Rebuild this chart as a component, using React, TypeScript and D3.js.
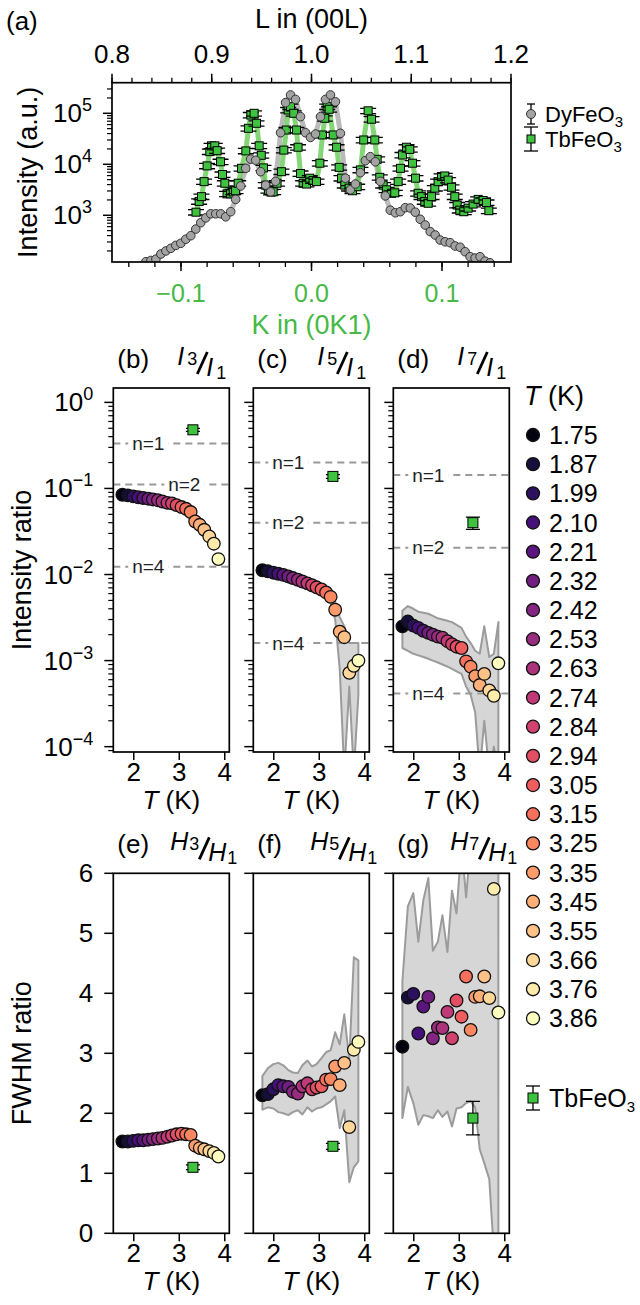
import React from 'react';
import * as d3 from 'd3';

const FONT = '"Liberation Sans", Arial, Helvetica, sans-serif';
const GREEN = '#3fc23f';
const GREEN_TEXT = '#46b946';
const BAND_FILL = '#d6d6d6';
const BAND_LINE = '#9b9b9b';

// (a) DyFeO3, [L, intensity]
const dyFeO3: [number, number][] = [
  [0.834, 123], [0.839, 130], [0.844, 138], [0.849, 174], [0.854, 200], [0.859, 225],
  [0.864, 257], [0.869, 282], [0.874, 339], [0.879, 398], [0.884, 537], [0.889, 716],
  [0.894, 890], [0.899, 1070], [0.904, 1070], [0.909, 1070], [0.914, 934], [0.919, 1175],
  [0.924, 2050], [0.929, 3760], [0.934, 8330], [0.939, 12600], [0.944, 12000], [0.949, 7160],
  [0.954, 3900], [0.959, 2880], [0.964, 4640], [0.969, 41600], [0.974, 162000], [0.979, 229000],
  [0.984, 187000], [0.989, 85800], [0.994, 41600], [0.999, 33700], [1.004, 39200], [1.009, 85800],
  [1.014, 187000], [1.019, 229000], [1.024, 168000], [1.029, 40500], [1.034, 5340], [1.039, 3160],
  [1.044, 4100], [1.049, 6840], [1.054, 11800], [1.059, 14100], [1.064, 11200], [1.069, 4640],
  [1.074, 2400], [1.079, 1260], [1.084, 1120], [1.089, 1175], [1.094, 1410], [1.099, 1390],
  [1.104, 1150], [1.109, 835], [1.114, 645], [1.119, 478], [1.124, 410], [1.129, 327],
  [1.134, 302], [1.139, 290], [1.144, 250], [1.149, 236], [1.154, 193], [1.159, 154],
  [1.164, 145], [1.169, 154], [1.174, 126], [1.179, 117],
];

// (a) TbFeO3, [K, intensity]
const tbFeO3: [number, number][] = [
  [-0.0885, 1150], [-0.0861, 1870], [-0.0843, 2320], [-0.0823, 4570], [-0.08, 9300],
  [-0.0779, 17700], [-0.0766, 23000], [-0.0741, 23000], [-0.0723, 18500], [-0.0697, 11200],
  [-0.0682, 6300], [-0.0664, 4250], [-0.0647, 2630], [-0.062, 2630], [-0.06, 2880],
  [-0.0582, 3030], [-0.0562, 4250], [-0.0536, 8330], [-0.0503, 18300], [-0.0483, 50800],
  [-0.0465, 92500], [-0.044, 100000], [-0.0421, 63700], [-0.0401, 23000], [-0.0385, 15000],
  [-0.0368, 8500], [-0.035, 3900], [-0.033, 3100], [-0.031, 2850], [-0.0294, 2880],
  [-0.0264, 4250], [-0.023, 7160], [-0.0212, 19000], [-0.0192, 47000], [-0.0179, 116000],
  [-0.0161, 135000], [-0.0136, 100000], [-0.0115, 47000], [-0.0103, 21600], [-0.0084, 6600],
  [-0.0064, 4250], [-0.0038, 4100], [-0.0013, 5340], [0.0012, 4800], [0.0038, 4570],
  [0.0064, 10500], [0.0084, 37600], [0.0102, 79800], [0.012, 135000], [0.0135, 120000],
  [0.0166, 37600], [0.0192, 21600], [0.0212, 8700], [0.023, 5340], [0.0255, 3900],
  [0.0288, 3400], [0.0314, 3030], [0.035, 3630], [0.0375, 7760], [0.04, 30000],
  [0.0434, 112000], [0.046, 76500], [0.0485, 30000], [0.0503, 12500], [0.0523, 5550],
  [0.0549, 3900], [0.0575, 3160], [0.0613, 2700], [0.0638, 2760], [0.0664, 4570],
  [0.0682, 8330], [0.0697, 15200], [0.0728, 21600], [0.0753, 19600], [0.0774, 10500],
  [0.0797, 5340], [0.0817, 2700], [0.0843, 2320], [0.0868, 1870], [0.0894, 1720],
  [0.092, 2320], [0.0945, 3400], [0.097, 4570], [0.0996, 5770], [0.1021, 5900],
  [0.1047, 4900], [0.1073, 3540], [0.1098, 2320], [0.1116, 1590], [0.1136, 1260],
  [0.1167, 1175], [0.12, 1380], [0.1238, 1660], [0.1277, 2050], [0.1315, 1950],
  [0.1341, 1780], [0.1359, 1230],
];

// temperatures (K)
const temps = [1.75, 1.87, 1.99, 2.10, 2.21, 2.32, 2.42, 2.53, 2.63, 2.74, 2.84, 2.94, 3.05, 3.15, 3.25, 3.35, 3.45, 3.55, 3.66, 3.76, 3.86];

// intensity ratios
const ratioI3 = [0.0845, 0.083, 0.0808, 0.079, 0.0775, 0.076, 0.0745, 0.073, 0.0705, 0.068, 0.067, 0.064, 0.0608, 0.058, 0.0532, 0.0413, 0.0378, 0.0331, 0.0277, 0.0228, 0.0151];
const ratioI5 = [0.0112, 0.0109, 0.0105, 0.0102, 0.0099, 0.0095, 0.0091, 0.0087, 0.0083, 0.0079, 0.0075, 0.0071, 0.0067, 0.0062, 0.0055, 0.0039, 0.00217, 0.00187, 0.00072, 0.00087, 0.001];
const ratioI5Lo = [0.0106, 0.0103, 0.0099, 0.0096, 0.0093, 0.0089, 0.0085, 0.0081, 0.0077, 0.0073, 0.0069, 0.0065, 0.0061, 0.0056, 0.0046, 0.003, 0.0008, 0.00005, 0.0005, 0.00005, 0.0004];
const ratioI5Hi = [0.0119, 0.0116, 0.0112, 0.0109, 0.0106, 0.0102, 0.0098, 0.0094, 0.009, 0.0086, 0.0082, 0.0078, 0.0074, 0.0069, 0.0064, 0.0049, 0.0032, 0.0025, 0.0016, 0.0016, 0.0016];
const ratioI7 = [0.0025, 0.00284, 0.00255, 0.0024, 0.00222, 0.0021, 0.002, 0.0019, 0.00185, 0.00168, 0.00155, 0.00145, 0.0014, 0.00098, 0.00085, 0.00066, 0.00052, 0.0007, 0.00045, 0.00039, 0.00093];
const ratioI7Lo = [0.0014, 0.0013, 0.0012, 0.00115, 0.0011, 0.00105, 0.001, 0.00095, 0.0009, 0.00085, 0.0008, 0.00075, 0.0007, 0.0005, 0.0004, 0.00025, 0.00005, 0.0002, 0.00005, 0.0001, 0.00005];
const ratioI7Hi = [0.0038, 0.0043, 0.004, 0.0037, 0.0036, 0.0035, 0.0033, 0.0031, 0.003, 0.0029, 0.0028, 0.0026, 0.0024, 0.0019, 0.0016, 0.0013, 0.0012, 0.0025, 0.0011, 0.0012, 0.0028];

// FWHM ratios
const fwhmH3 = [1.53, 1.53, 1.54, 1.55, 1.55, 1.56, 1.57, 1.58, 1.59, 1.61, 1.63, 1.65, 1.66, 1.65, 1.64, 1.46, 1.42, 1.4, 1.37, 1.34, 1.28];
const fwhmH5 = [2.3, 2.32, 2.4, 2.47, 2.45, 2.44, 2.36, 2.33, 2.45, 2.5, 2.4, 2.43, 2.45, 2.56, 2.57, 2.78, 2.47, 2.84, 1.77, 3.06, 3.19];
const fwhmH5Lo = [2.06, 2.1, 2.08, 2.02, 2.0, 1.97, 2.02, 2.05, 1.98, 2.1, 2.03, 2.08, 2.1, 2.15, 2.2, 2.28, 1.75, 2.05, 0.85, 1.1, 1.2];
const fwhmH5Hi = [2.62, 2.75, 2.82, 2.84, 2.8, 2.72, 2.68, 2.67, 2.8, 2.88, 2.78, 2.82, 2.92, 3.02, 3.05, 3.35, 3.15, 3.65, 2.9, 4.6, 4.55];
const fwhmH7 = [3.11, 3.93, 3.99, 3.33, 3.78, 3.94, 3.25, 3.43, 3.42, 3.69, 3.25, 3.88, 3.61, 4.28, 3.39, 3.94, 3.95, 4.28, 3.92, 5.74, 3.68];
const fwhmH7Lo = [1.92, 2.44, 2.17, 1.81, 1.97, 1.95, 1.92, 2.05, 1.94, 2.03, 1.78, 2.08, 2.1, 2.17, 2.2, 2.1, 1.4, 1.17, 0.9, -0.3, -0.3];
const fwhmH7Hi = [4.2, 5.45, 5.67, 4.86, 5.55, 5.92, 4.71, 4.86, 5.3, 4.69, 5.71, 5.33, 6.5, 5.6, 6.5, 6.5, 6.5, 6.5, 6.5, 6.5, 6.5];

// expected ratios for n-domain lines
const nNames = ['n=1', 'n=2', 'n=4'];
const nLevelsI3 = [0.333, 0.111, 0.0123];
const nLevelsI5 = [0.2, 0.04, 0.0016];
const nLevelsI7 = [0.143, 0.0204, 0.000416];

// TbFeO3 reference points
const tbTemp = 3.3;
const tbRatio = [0.48, 0.138, 0.04];
const tbRatioErr = [0.02, 0.007, 0.0065];
const tbFwhm = [1.1, 1.45, 1.92];
const tbFwhmErr = [0.04, 0.05, 0.28];

// ticks
const lTicks = [0.8, 0.9, 1.0, 1.1, 1.2];
const kTicks = [-0.1, 0, 0.1];
const kTickLabels = ['\u22120.1', '0.0', '0.1'];
const tTicks = [2, 3, 4];
const fwhmTicks = [0, 1, 2, 3, 4, 5, 6];

// layout
const W = 640;
const H = 1305;
const A = { left: 112, right: 511, top: 82.7, bottom: 262 };
const ROW1 = { top: 388, bottom: 752 };
const ROW2 = { top: 873.3, bottom: 1233.3 };
const COLS = [113.3, 253.3, 393.3];
const PW = 116;

const xL = d3.scaleLinear().domain([0.8, 1.2]).range([A.left, A.right]);
const xK = d3.scaleLinear().domain([-0.15287, 0.15287]).range([A.left, A.right]);
const yA = d3.scaleLog().domain([10 ** 2.084, 10 ** 5.6]).range([A.bottom, A.top]);
const yRatio = d3.scaleLog().domain([10 ** -4.062, 10 ** 0.167]).range([ROW1.bottom, ROW1.top]);
const yFwhm = d3.scaleLinear().domain([0, 6]).range([ROW2.bottom, ROW2.top]);
const tScale = (left: number) => d3.scaleLinear().domain([1.55, 4.1]).range([left, left + PW]);
const tempColor = (i: number) => d3.interpolateMagma(0.03 + 0.97 * (i / (temps.length - 1)) ** 0.85);

function logTicks(scale: any) {
  const [a, b] = scale.domain();
  const major: { v: number; e: number }[] = [];
  const minor: number[] = [];
  for (let e = Math.floor(Math.log10(a)); e <= Math.ceil(Math.log10(b)); e++) {
    for (let m = 1; m <= 9; m++) {
      const v = m * Math.pow(10, e);
      if (v < a * 0.9999 || v > b * 1.0001) continue;
      if (m === 1) major.push({ v, e });
      else minor.push(v);
    }
  }
  return { major, minor };
}

const Pow10 = ({ x, y, e }: { x: number; y: number; e: number }) => (
  <text x={x} y={y + 9} textAnchor="end" fontSize={26}>
    10<tspan dy={-11} fontSize={18}>{e < 0 ? `\u2212${-e}` : `${e}`}</tspan>
  </text>
);

const Sub3 = ({ name }: { name: string }) => (
  <>
    {name}
    <tspan dy={5} fontSize={15}>3</tspan>
  </>
);

function ErrSquare({ cx, cy, y0, y1, size, cap }: { cx: number; cy: number; y0: number; y1: number; size: number; cap: number }) {
  return (
    <g>
      <line x1={cx} x2={cx} y1={y0} y2={y1} stroke="#000" strokeWidth={1.3} />
      <line x1={cx - cap} x2={cx + cap} y1={y0} y2={y0} stroke="#000" strokeWidth={1.3} />
      <line x1={cx - cap} x2={cx + cap} y1={y1} y2={y1} stroke="#000" strokeWidth={1.3} />
      <rect x={cx - size / 2} y={cy - size / 2} width={size} height={size} fill={GREEN} stroke="#000" strokeWidth={1} />
    </g>
  );
}

function PanelA() {
  const lt = logTicks(yA);
  const dyLine = d3.line<[number, number]>().x((d) => xL(d[0])).y((d) => yA(d[1]));
  const tbLine = d3.line<[number, number]>().x((d) => xK(d[0])).y((d) => yA(d[1]));
  const lMinor = d3.range(0.8, 1.2001, 0.02);
  const kMinor = d3.range(-0.14, 0.1401, 0.02);
  return (
    <g>
      <defs>
        <clipPath id="clipA">
          <rect x={A.left} y={A.top} width={A.right - A.left} height={A.bottom - A.top} />
        </clipPath>
      </defs>
      <g clipPath="url(#clipA)">
        <path d={dyLine(dyFeO3) || ''} fill="none" stroke="#aaaaaa" strokeOpacity={0.8} strokeWidth={5} strokeLinejoin="round" />
        <path d={tbLine(tbFeO3) || ''} fill="none" stroke="#66cc55" strokeOpacity={0.8} strokeWidth={5} strokeLinejoin="round" />
        {tbFeO3.map((d, i) => (
          <ErrSquare key={`t${i}`} cx={xK(d[0])} cy={yA(d[1])} y0={yA(d[1] * 1.12)} y1={yA(d[1] * 0.88)} size={8} cap={8} />
        ))}
        {dyFeO3.map((d, i) => (
          <circle key={`d${i}`} cx={xL(d[0])} cy={yA(d[1])} r={4.3} fill="#a3a3a3" stroke="#333" strokeWidth={1} />
        ))}
      </g>
      <rect x={A.left} y={A.top} width={A.right - A.left} height={A.bottom - A.top} fill="none" stroke="#000" strokeWidth={1.7} />
      {lMinor.map((v, i) => (
        <line key={`lm${i}`} x1={xL(v)} x2={xL(v)} y1={A.top} y2={A.top - 5} stroke="#000" strokeWidth={1.3} />
      ))}
      {lTicks.map((v) => (
        <g key={`lt${v}`}>
          <line x1={xL(v)} x2={xL(v)} y1={A.top} y2={A.top - 9} stroke="#000" strokeWidth={1.5} />
          <text x={xL(v)} y={A.top - 20} textAnchor="middle" fontSize={26}>{v.toFixed(1)}</text>
        </g>
      ))}
      <text x={(A.left + A.right) / 2} y={28} textAnchor="middle" fontSize={27}>L in (00L)</text>
      <text x={6} y={30} fontSize={26}>(a)</text>
      {kMinor.map((v, i) => (
        <line key={`km${i}`} x1={xK(v)} x2={xK(v)} y1={A.bottom} y2={A.bottom + 5} stroke="#000" strokeWidth={1.3} />
      ))}
      {kTicks.map((v, i) => (
        <g key={`kt${i}`}>
          <line x1={xK(v)} x2={xK(v)} y1={A.bottom} y2={A.bottom + 9} stroke="#000" strokeWidth={1.5} />
          <text x={xK(v)} y={A.bottom + 40} textAnchor="middle" fontSize={25} fill={GREEN_TEXT}>{kTickLabels[i]}</text>
        </g>
      ))}
      <text x={(A.left + A.right) / 2} y={A.bottom + 72} textAnchor="middle" fontSize={27} fill={GREEN_TEXT}>K in (0K1)</text>
      {lt.minor.map((v, i) => (
        <line key={`ym${i}`} x1={A.left} x2={A.left - 5} y1={yA(v)} y2={yA(v)} stroke="#000" strokeWidth={1.2} />
      ))}
      {lt.major.map((t) => (
        <g key={`yM${t.e}`}>
          <line x1={A.left} x2={A.left - 9} y1={yA(t.v)} y2={yA(t.v)} stroke="#000" strokeWidth={1.5} />
          <Pow10 x={A.left - 20} y={yA(t.v)} e={t.e} />
        </g>
      ))}
      <text transform={`translate(37,${(A.top + A.bottom) / 2}) rotate(-90)`} textAnchor="middle" fontSize={27}>Intensity (a.u.)</text>
      <g>
        <line x1={531} x2={531} y1={104} y2={124} stroke="#000" strokeWidth={1.3} />
        <line x1={527} x2={535} y1={104} y2={104} stroke="#000" strokeWidth={1.3} />
        <line x1={527} x2={535} y1={124} y2={124} stroke="#000" strokeWidth={1.3} />
        <circle cx={531} cy={114} r={4.5} fill="#a3a3a3" stroke="#333" strokeWidth={1} />
        <text x={545} y={122} fontSize={22}><Sub3 name="DyFeO" /></text>
        <ErrSquare cx={531} cy={139} y0={127} y1={151} size={8} cap={7} />
        <text x={545} y={147} fontSize={22}><Sub3 name="TbFeO" /></text>
      </g>
    </g>
  );
}

function Frac({ x, y, sym, k }: { x: number; y: number; sym: string; k: number }) {
  const w = sym === 'H' ? 17 : 8;
  return (
    <g>
      <text x={x} y={y} fontSize={25} fontStyle="italic">{sym}</text>
      <text x={x + w + 2} y={y} fontSize={18}>{k}</text>
      <line x1={x + w + 12} y1={y + 9} x2={x + w + 22} y2={y - 13} stroke="#000" strokeWidth={2.8} />
      <text x={x + w + 21} y={y + 11} fontSize={25} fontStyle="italic">{sym}</text>
      <text x={x + 2 * w + 23} y={y + 14} fontSize={18}>1</text>
    </g>
  );
}

function TAxis({ left, bottom }: { left: number; bottom: number }) {
  const x = tScale(left);
  return (
    <g>
      {tTicks.map((t) => (
        <g key={t}>
          <line x1={x(t)} x2={x(t)} y1={bottom} y2={bottom + 8} stroke="#000" strokeWidth={1.5} />
          <text x={x(t)} y={bottom + 29} textAnchor="middle" fontSize={26}>{t}</text>
        </g>
      ))}
      <text x={left + PW / 2} y={bottom + 57} textAnchor="middle" fontSize={26}>
        <tspan fontStyle="italic">T</tspan> (K)
      </text>
    </g>
  );
}

function Header({ left, top, letter, sym, k }: { left: number; top: number; letter: string; sym: string; k: number }) {
  return (
    <g>
      <text x={left + 4} y={top - 20} fontSize={26}>({letter})</text>
      <Frac x={left + (sym === 'H' ? 57 : 64)} y={top - 23} sym={sym} k={k} />
    </g>
  );
}

function Band({ x, y, lo, hi }: { x: any; y: any; lo: number[]; hi: number[] }) {
  const area = d3.area<number>().x((_, i) => x(temps[i])).y0((_, i) => y(lo[i])).y1((_, i) => y(hi[i]));
  return <path d={area(temps) || ''} fill={BAND_FILL} stroke={BAND_LINE} strokeWidth={2} strokeLinejoin="round" />;
}

function Dots({ x, y, vals }: { x: any; y: any; vals: number[] }) {
  return (
    <g>
      {vals.map((v, i) => (
        <circle key={i} cx={x(temps[i])} cy={y(v)} r={6.3} fill={tempColor(i)} stroke="#111" strokeWidth={1.3} />
      ))}
    </g>
  );
}

function RatioPanel({ col, letter, k, vals, lo, hi, levels }: { col: number; letter: string; k: number; vals: number[]; lo?: number[]; hi?: number[]; levels: number[] }) {
  const left = COLS[col];
  const x = tScale(left);
  const y = yRatio;
  const lt = logTicks(y);
  const id = `clipR${col}`;
  const tb = tbRatio[col];
  const err = tbRatioErr[col];
  return (
    <g>
      <defs>
        <clipPath id={id}>
          <rect x={left} y={ROW1.top} width={PW} height={ROW1.bottom - ROW1.top} />
        </clipPath>
      </defs>
      <g clipPath={`url(#${id})`}>
        {lo && hi && <Band x={x} y={y} lo={lo} hi={hi} />}
        {levels.map((v, j) => {
          const cx = left + (col === 0 && j === 1 ? 71 : 35);
          return (
            <g key={j}>
              <line x1={left} x2={left + PW} y1={y(v)} y2={y(v)} stroke="#999" strokeWidth={2} strokeDasharray="7,5" />
              <rect x={cx - 20} y={y(v) - 9} width={40} height={18} fill="#fff" />
              <text x={cx} y={y(v) + 6.5} textAnchor="middle" fontSize={19} fill="#222">{nNames[j]}</text>
            </g>
          );
        })}
        <Dots x={x} y={y} vals={vals} />
        <ErrSquare cx={x(tbTemp)} cy={y(tb)} y0={y(tb + err)} y1={y(tb - err)} size={10} cap={7} />
      </g>
      <rect x={left} y={ROW1.top} width={PW} height={ROW1.bottom - ROW1.top} fill="none" stroke="#000" strokeWidth={1.7} />
      {lt.minor.map((v, i) => (
        <line key={`m${i}`} x1={left} x2={left - 5} y1={y(v)} y2={y(v)} stroke="#000" strokeWidth={1.2} />
      ))}
      {lt.major.map((t) => (
        <g key={`M${t.e}`}>
          <line x1={left} x2={left - 9} y1={y(t.v)} y2={y(t.v)} stroke="#000" strokeWidth={1.5} />
          {col === 0 && <Pow10 x={left - 20} y={y(t.v)} e={t.e} />}
        </g>
      ))}
      <Header left={left} top={ROW1.top} letter={letter} sym="I" k={k} />
      <TAxis left={left} bottom={ROW1.bottom} />
    </g>
  );
}

function FwhmPanel({ col, letter, k, vals, lo, hi }: { col: number; letter: string; k: number; vals: number[]; lo?: number[]; hi?: number[] }) {
  const left = COLS[col];
  const x = tScale(left);
  const y = yFwhm;
  const id = `clipF${col}`;
  const tb = tbFwhm[col];
  const err = tbFwhmErr[col];
  return (
    <g>
      <defs>
        <clipPath id={id}>
          <rect x={left} y={ROW2.top} width={PW} height={ROW2.bottom - ROW2.top} />
        </clipPath>
      </defs>
      <g clipPath={`url(#${id})`}>
        {lo && hi && <Band x={x} y={y} lo={lo} hi={hi} />}
        <Dots x={x} y={y} vals={vals} />
        <ErrSquare cx={x(tbTemp)} cy={y(tb)} y0={y(tb + err)} y1={y(tb - err)} size={10} cap={7} />
      </g>
      <rect x={left} y={ROW2.top} width={PW} height={ROW2.bottom - ROW2.top} fill="none" stroke="#000" strokeWidth={1.7} />
      {fwhmTicks.map((t) => (
        <g key={t}>
          <line x1={left} x2={left - 9} y1={y(t)} y2={y(t)} stroke="#000" strokeWidth={1.5} />
          {col === 0 && (
            <text x={left - 20} y={y(t) + 9} textAnchor="end" fontSize={26}>{t}</text>
          )}
        </g>
      ))}
      <Header left={left} top={ROW2.top} letter={letter} sym="H" k={k} />
      <TAxis left={left} bottom={ROW2.bottom} />
    </g>
  );
}

function TempLegend() {
  const lx = 533;
  const y0 = 435;
  const dy = 29.17;
  return (
    <g>
      <text x={524} y={405} fontSize={27}>
        <tspan fontStyle="italic">T</tspan> (K)
      </text>
      {temps.map((t, i) => (
        <g key={t}>
          <circle cx={lx} cy={y0 + i * dy} r={6.5} fill={tempColor(i)} stroke="#111" strokeWidth={1.3} />
          <text x={549} y={y0 + i * dy + 9} fontSize={25}>{t.toFixed(2)}</text>
        </g>
      ))}
      <ErrSquare cx={lx} cy={1098} y0={1086} y1={1110} size={10} cap={7} />
      <text x={549} y={1107} fontSize={25}><Sub3 name="TbFeO" /></text>
    </g>
  );
}

export default function App() {
  return (
    <svg
      width={W}
      height={H}
      viewBox={`0 0 ${W} ${H}`}
      style={{ position: 'absolute', left: 0, top: 0, background: '#fff' }}
      fontFamily={FONT}
    >
      <rect width={W} height={H} fill="#fff" />
      <PanelA />
      <RatioPanel col={0} letter="b" k={3} vals={ratioI3} levels={nLevelsI3} />
      <RatioPanel col={1} letter="c" k={5} vals={ratioI5} lo={ratioI5Lo} hi={ratioI5Hi} levels={nLevelsI5} />
      <RatioPanel col={2} letter="d" k={7} vals={ratioI7} lo={ratioI7Lo} hi={ratioI7Hi} levels={nLevelsI7} />
      <text transform={`translate(31,${(ROW1.top + ROW1.bottom) / 2}) rotate(-90)`} textAnchor="middle" fontSize={27}>Intensity ratio</text>
      <FwhmPanel col={0} letter="e" k={3} vals={fwhmH3} />
      <FwhmPanel col={1} letter="f" k={5} vals={fwhmH5} lo={fwhmH5Lo} hi={fwhmH5Hi} />
      <FwhmPanel col={2} letter="g" k={7} vals={fwhmH7} lo={fwhmH7Lo} hi={fwhmH7Hi} />
      <text transform={`translate(31,${(ROW2.top + ROW2.bottom) / 2}) rotate(-90)`} textAnchor="middle" fontSize={27}>FWHM ratio</text>
      <TempLegend />
    </svg>
  );
}
